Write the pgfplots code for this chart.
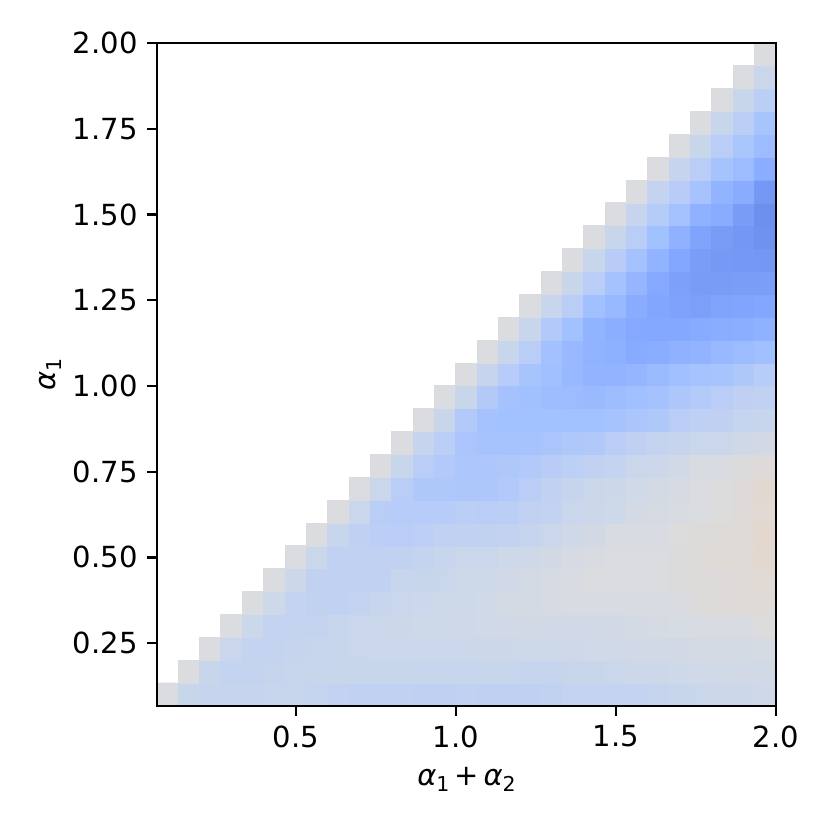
\documentclass[border=0pt]{standalone}
\usepackage{pgfplots}
\pgfplotsset{compat=1.18}
\usepackage{fontspec}
\setmainfont{DejaVu Sans}
\newcommand{\al}[1]{{\itshape α}\raisebox{-0.2em}{\fontsize{7.4}{7.4}\selectfont #1}}
\begin{document}
\begin{tikzpicture}
\path[use as bounding box] (-56.52bp,-44.64bp) rectangle (242.28bp,254.16bp);
\begin{axis}[
  scale only axis, width=222.84bp, height=238.68bp,
  xmin=0.0667, xmax=2.0, ymin=0.0667, ymax=2.0,
  axis on top,
  axis line style={line width=0.8pt},
  tick style={line width=0.8pt,black},
  major tick length=3.5pt,
  tick align=outside, tick pos=left,
  xtick={0.5,1,1.5,2}, ytick={0.25,0.5,0.75,1,1.25,1.5,1.75,2},
  xticklabel style={/pgf/number format/.cd,fixed,fixed zerofill,precision=1,assume math mode=true},
  yticklabel style={/pgf/number format/.cd,fixed,fixed zerofill,precision=2,assume math mode=true},
  tick label style={font=\fontsize{10.5}{12}\selectfont},
  label style={font=\fontsize{10.5}{12}\selectfont},
  xlabel={\al{1}\,+\,\al{2}},
  ylabel={\al{1}},
  xlabel style={at={(axis description cs:0.5,0)},anchor=north,yshift=-18.5bp},
  ylabel style={at={(axis description cs:0,0.5)},anchor=south,yshift=31bp},
  point meta min=-1.5, point meta max=10,
  colormap={hm}{
    rgb255(0pt)=(229,213,200);
    rgb255(5pt)=(226,216,207);
    rgb255(15pt)=(219,220,223);
    rgb255(35pt)=(202,215,235);
    rgb255(55pt)=(185,205,247);
    rgb255(75pt)=(161,192,255);
    rgb255(95pt)=(131,167,255);
    rgb255(115pt)=(109,144,238)
  },
  unbounded coords=jump,
]
\addplot[matrix plot*, mesh/cols=29, point meta=explicit] table[
  row sep=\\, header=false,
  x expr={0.1+0.066667*mod(\coordindex,29)},
  y expr={0.1+0.066667*floor(\coordindex/29)},
  meta index=0]{
0\\2.2\\2.5\\2.5\\2.5\\2.4\\2.4\\2.6\\2.9\\3.1\\3.1\\3.1\\3.3\\3.3\\3.2\\3.3\\3.3\\3.3\\3\\2.8\\2.8\\2.8\\2.7\\2.5\\2.2\\2\\1.8\\1.8\\1.5\\
nan\\0\\2.2\\2.7\\2.7\\2.5\\2.3\\2.2\\2.2\\2.2\\2.2\\2.2\\2.3\\2.4\\2.4\\2.3\\2.3\\2.5\\2.5\\2.2\\2.2\\2\\1.8\\1.8\\1.7\\1.3\\1.3\\1.2\\1.2\\
nan\\nan\\0\\2.1\\2.7\\2.7\\2.5\\2.4\\2.2\\2.1\\1.9\\1.9\\1.9\\1.9\\1.9\\1.8\\1.8\\1.7\\1.6\\1.5\\1.3\\1.3\\1.1\\1.1\\1\\.9\\.9\\.8\\.6\\
nan\\nan\\nan\\0\\1.9\\2.7\\2.8\\2.7\\2.4\\2.1\\1.9\\1.8\\1.7\\1.6\\1.5\\1.3\\1.1\\1\\1.1\\1.1\\1.2\\1\\.8\\.6\\.5\\.4\\.3\\.3\\-.1\\
nan\\nan\\nan\\nan\\0\\1.7\\2.8\\3\\3.1\\2.8\\2.3\\2.1\\1.9\\1.7\\1.6\\1.3\\.9\\.8\\.6\\.5\\.5\\.3\\.3\\.3\\.2\\-.3\\-.4\\-.6\\-.6\\
nan\\nan\\nan\\nan\\nan\\0\\1.8\\3\\3.2\\3.1\\3.1\\2.4\\2.2\\2\\1.7\\1.6\\1.2\\.8\\.6\\.4\\.1\\.1\\.1\\.1\\-.2\\-.3\\-.4\\-.5\\-.7\\
nan\\nan\\nan\\nan\\nan\\nan\\0\\2\\3.1\\3.2\\3.2\\3\\2.8\\2.3\\2\\2\\1.7\\1.5\\1\\.7\\.4\\.1\\.1\\.1\\-.2\\-.5\\-.6\\-.6\\-1\\
nan\\nan\\nan\\nan\\nan\\nan\\nan\\0\\2.3\\3.3\\3.7\\3.9\\3.5\\3.1\\3.1\\3\\2.9\\2.5\\2\\1.4\\1\\.4\\.4\\.3\\-.1\\-.3\\-.5\\-.6\\-1.1\\
nan\\nan\\nan\\nan\\nan\\nan\\nan\\nan\\0\\2.1\\3.9\\4.2\\4.2\\4.2\\3.8\\3.9\\3.8\\3.2\\2.9\\2.1\\1.8\\1.6\\.9\\.6\\.3\\0\\-.1\\-.5\\-.8\\
nan\\nan\\nan\\nan\\nan\\nan\\nan\\nan\\nan\\0\\2.1\\3.9\\4.8\\4.8\\4.9\\4.9\\4.6\\4\\3.2\\2.5\\2\\1.8\\1.3\\.9\\.6\\.1\\-.1\\-.4\\-.9\\
nan\\nan\\nan\\nan\\nan\\nan\\nan\\nan\\nan\\nan\\0\\2.2\\4\\4.6\\5\\5\\4.8\\4.6\\4.1\\3.6\\3.2\\2.8\\2\\1.8\\1.2\\.5\\.4\\-.2\\-.4\\
nan\\nan\\nan\\nan\\nan\\nan\\nan\\nan\\nan\\nan\\nan\\0\\2.5\\3.8\\5.2\\5.5\\5.6\\5.5\\5.3\\4.8\\4.7\\3.9\\3.3\\2.8\\2.5\\2\\2\\1.4\\1\\
nan\\nan\\nan\\nan\\nan\\nan\\nan\\nan\\nan\\nan\\nan\\nan\\0\\2.2\\4.6\\5.7\\5.9\\5.9\\5.9\\5.9\\5.9\\5.6\\5.1\\4.8\\4\\3.4\\3.3\\2.6\\2.3\\
nan\\nan\\nan\\nan\\nan\\nan\\nan\\nan\\nan\\nan\\nan\\nan\\nan\\0\\2.2\\4.5\\5.7\\6\\6.2\\6.3\\6.5\\6.2\\6\\5.7\\5\\4.4\\4\\3.3\\3.2\\
nan\\nan\\nan\\nan\\nan\\nan\\nan\\nan\\nan\\nan\\nan\\nan\\nan\\nan\\0\\2.5\\4.2\\5.4\\6\\6.6\\7\\7\\6.8\\6.4\\6\\5.6\\5.4\\4.8\\4.2\\
nan\\nan\\nan\\nan\\nan\\nan\\nan\\nan\\nan\\nan\\nan\\nan\\nan\\nan\\nan\\0\\2.2\\4\\5.8\\6.6\\7.1\\7.3\\7.7\\7.5\\7.2\\7\\6.6\\6.3\\6\\
nan\\nan\\nan\\nan\\nan\\nan\\nan\\nan\\nan\\nan\\nan\\nan\\nan\\nan\\nan\\nan\\0\\2.2\\4.5\\5.9\\7\\7.4\\7.8\\7.9\\7.9\\7.7\\7.5\\7.4\\7.2\\
nan\\nan\\nan\\nan\\nan\\nan\\nan\\nan\\nan\\nan\\nan\\nan\\nan\\nan\\nan\\nan\\nan\\0\\2.4\\4\\6\\6.6\\7.6\\8.1\\8.4\\8.6\\8.3\\8.2\\8\\
nan\\nan\\nan\\nan\\nan\\nan\\nan\\nan\\nan\\nan\\nan\\nan\\nan\\nan\\nan\\nan\\nan\\nan\\0\\2.2\\4\\5.7\\6.8\\7.8\\8.5\\8.9\\8.9\\8.8\\8.7\\
nan\\nan\\nan\\nan\\nan\\nan\\nan\\nan\\nan\\nan\\nan\\nan\\nan\\nan\\nan\\nan\\nan\\nan\\nan\\0\\2.2\\4.1\\5.7\\7\\8\\8.8\\9.2\\9.3\\9.4\\
nan\\nan\\nan\\nan\\nan\\nan\\nan\\nan\\nan\\nan\\nan\\nan\\nan\\nan\\nan\\nan\\nan\\nan\\nan\\nan\\0\\2.2\\3.9\\5.9\\7.2\\8.3\\8.9\\9.4\\9.8\\
nan\\nan\\nan\\nan\\nan\\nan\\nan\\nan\\nan\\nan\\nan\\nan\\nan\\nan\\nan\\nan\\nan\\nan\\nan\\nan\\nan\\0\\2.5\\4.3\\5.7\\7.2\\7.6\\8.9\\10\\
nan\\nan\\nan\\nan\\nan\\nan\\nan\\nan\\nan\\nan\\nan\\nan\\nan\\nan\\nan\\nan\\nan\\nan\\nan\\nan\\nan\\nan\\0\\2.7\\4.1\\5.6\\7\\7.6\\9.3\\
nan\\nan\\nan\\nan\\nan\\nan\\nan\\nan\\nan\\nan\\nan\\nan\\nan\\nan\\nan\\nan\\nan\\nan\\nan\\nan\\nan\\nan\\nan\\0\\2.5\\4\\5.6\\6.3\\7.5\\
nan\\nan\\nan\\nan\\nan\\nan\\nan\\nan\\nan\\nan\\nan\\nan\\nan\\nan\\nan\\nan\\nan\\nan\\nan\\nan\\nan\\nan\\nan\\nan\\0\\2.2\\3.9\\5.3\\6.3\\
nan\\nan\\nan\\nan\\nan\\nan\\nan\\nan\\nan\\nan\\nan\\nan\\nan\\nan\\nan\\nan\\nan\\nan\\nan\\nan\\nan\\nan\\nan\\nan\\nan\\0\\2.2\\3.8\\5.4\\
nan\\nan\\nan\\nan\\nan\\nan\\nan\\nan\\nan\\nan\\nan\\nan\\nan\\nan\\nan\\nan\\nan\\nan\\nan\\nan\\nan\\nan\\nan\\nan\\nan\\nan\\0\\2.2\\3.8\\
nan\\nan\\nan\\nan\\nan\\nan\\nan\\nan\\nan\\nan\\nan\\nan\\nan\\nan\\nan\\nan\\nan\\nan\\nan\\nan\\nan\\nan\\nan\\nan\\nan\\nan\\nan\\0\\2\\
nan\\nan\\nan\\nan\\nan\\nan\\nan\\nan\\nan\\nan\\nan\\nan\\nan\\nan\\nan\\nan\\nan\\nan\\nan\\nan\\nan\\nan\\nan\\nan\\nan\\nan\\nan\\nan\\0\\
};
\end{axis}
\end{tikzpicture}
\end{document}
